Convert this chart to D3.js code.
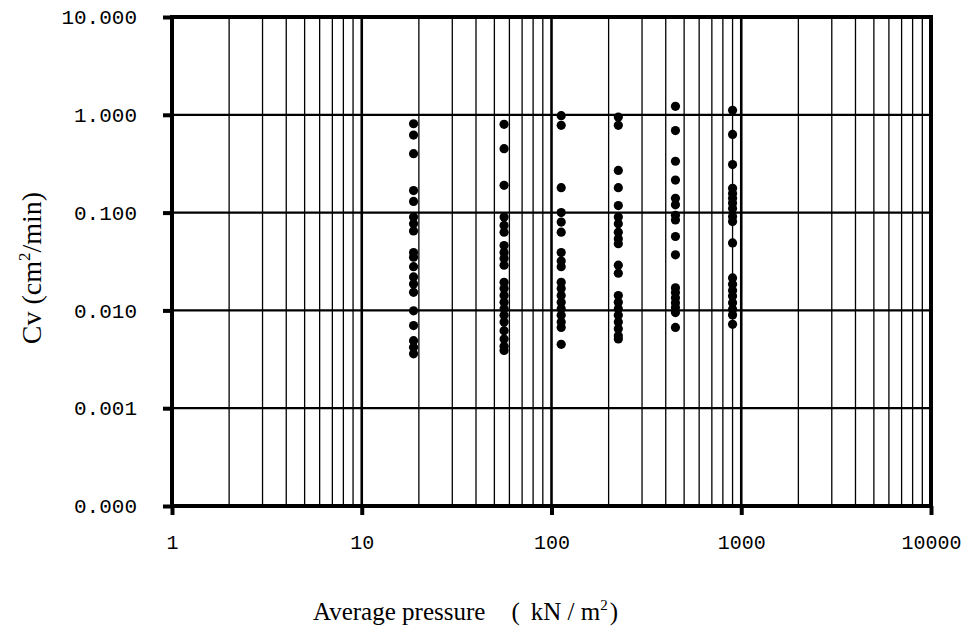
<!DOCTYPE html>
<html>
<head>
<meta charset="utf-8">
<script src="https://cdn.jsdelivr.net/npm/d3@7"></script>
<style>
	html, body { margin: 0; padding: 0; background: #ffffff; }
	svg { display: block; }
</style>
</head>
<body>
<div id="container"></div>
<script>
/* DATA | */
	const pressures = [18.75, 56.25, 112.5, 225, 450, 900] /* kN/m2, one column of dots each */

	const cv19 = [0.81, 0.62, 0.40, 0.168, 0.13, 0.090, 0.077, 0.065, 0.039, 0.035, 0.028, 0.022, 0.0186, 0.0153, 0.0099, 0.0070, 0.0049, 0.0042, 0.0036]
	const cv56 = [0.80, 0.45, 0.19, 0.090, 0.074, 0.063, 0.046, 0.039, 0.034, 0.029, 0.0194, 0.0167, 0.0142, 0.0121, 0.0104, 0.0089, 0.0076, 0.0062, 0.0051, 0.0043, 0.0039]
	const cv112 = [0.98, 0.78, 0.18, 0.10, 0.080, 0.063, 0.039, 0.032, 0.028, 0.0194, 0.0167, 0.0142, 0.0121, 0.0104, 0.0089, 0.0076, 0.0067, 0.0045]
	const cv225 = [0.95, 0.78, 0.27, 0.18, 0.118, 0.090, 0.077, 0.063, 0.054, 0.048, 0.029, 0.024, 0.0142, 0.0121, 0.0104, 0.0089, 0.0076, 0.0065, 0.0055, 0.0051]
	const cv450 = [1.22, 0.69, 0.335, 0.215, 0.14, 0.12, 0.094, 0.084, 0.057, 0.037, 0.0170, 0.0152, 0.0135, 0.0120, 0.0107, 0.0095, 0.0067]
	const cv900 = [1.11, 0.63, 0.31, 0.177, 0.157, 0.14, 0.125, 0.11, 0.091, 0.081, 0.049, 0.0215, 0.0185, 0.0160, 0.0140, 0.0120, 0.0103, 0.0090, 0.0072]

	const xTicks = [1, 10, 100, 1000, 10000]
	const yTicks = [0.0001, 0.001, 0.01, 0.1, 1, 10] /* bottom one prints as 0.000 */

/* CONSTANTS */
	const width = 969,
	height = 638,
	margin = { top: 17, bottom: 132, left: 172, right: 38 }

	const monoFont = "'Liberation Mono', 'DejaVu Sans Mono', monospace"
	const serifFont = "'Liberation Serif', 'DejaVu Serif', serif"

/* flatten the columns into points */
	const columns = [cv19, cv56, cv112, cv225, cv450, cv900]
	const points = []
	columns.forEach((col, i) => {
		col.forEach(v => points.push({ p: pressures[i], cv: v }))
	})

/* SCALES */
	const xScale = d3.scaleLog()
		.domain([1, 10000])
		.range([margin.left, width - margin.right])

	const yScale = d3.scaleLog()
		.domain([0.0001, 10])
		.range([height - margin.bottom, margin.top])

/* SVG */
	const svg = d3.select("#container")
		.append("svg")
		.attr("width", width)
		.attr("height", height)

/* GRID | minor verticals 2..9 in every decade, decade lines heavier */
	const minorX = []
	for (let e = 0; e < 4; e++) {
		for (let k = 2; k <= 9; k++) minorX.push(k * Math.pow(10, e))
	}

	svg.append("g")
		.selectAll("line")
		.data(minorX)
		.join("line")
		.attr("x1", d => xScale(d))
		.attr("x2", d => xScale(d))
		.attr("y1", margin.top)
		.attr("y2", height - margin.bottom)
		.attr("stroke", "#000")
		.attr("stroke-width", 1.3)

	svg.append("g")
		.selectAll("line")
		.data(xTicks.slice(1, -1))
		.join("line")
		.attr("x1", d => xScale(d))
		.attr("x2", d => xScale(d))
		.attr("y1", margin.top)
		.attr("y2", height - margin.bottom)
		.attr("stroke", "#000")
		.attr("stroke-width", 2.6)

	svg.append("g")
		.selectAll("line")
		.data(yTicks.slice(1, -1))
		.join("line")
		.attr("x1", margin.left)
		.attr("x2", width - margin.right)
		.attr("y1", d => yScale(d))
		.attr("y2", d => yScale(d))
		.attr("stroke", "#000")
		.attr("stroke-width", 2.2)

/* AXES */
	const xAxis = d3.axisBottom(xScale)
		.tickValues(xTicks)
		.tickFormat(d3.format("d"))
		.tickSize(9)
		.tickPadding(20)

	const xAxisGroup = svg.append("g")
		.attr("transform", `translate(0, ${height - margin.bottom})`)
		.call(xAxis)
	xAxisGroup.select(".domain").remove()
	xAxisGroup.selectAll(".tick line").attr("stroke", "#000").attr("stroke-width", 4)
	xAxisGroup.selectAll(".tick text")
		.style("font-family", monoFont)
		.style("font-size", "20px")
		.attr("fill", "#000")

	const yAxis = d3.axisLeft(yScale)
		.tickValues(yTicks)
		.tickFormat(d3.format(".3f"))
		.tickSize(9)
		.tickPadding(26)

	const yAxisGroup = svg.append("g")
		.attr("transform", `translate(${margin.left}, 0)`)
		.call(yAxis)
	yAxisGroup.select(".domain").remove()
	yAxisGroup.selectAll(".tick line").attr("stroke", "#000").attr("stroke-width", 4)
	yAxisGroup.selectAll(".tick text")
		.style("font-family", monoFont)
		.style("font-size", "21px")
		.attr("fill", "#000")

/* FRAME */
	svg.append("rect")
		.attr("x", margin.left)
		.attr("y", margin.top)
		.attr("width", width - margin.left - margin.right)
		.attr("height", height - margin.top - margin.bottom)
		.attr("fill", "none")
		.attr("stroke", "#000")
		.attr("stroke-width", 4)

/* DOTS */
	svg.append("g")
		.selectAll("circle")
		.data(points)
		.join("circle")
		.attr("cx", d => xScale(d.p))
		.attr("cy", d => yScale(d.cv))
		.attr("r", 4.6)
		.attr("fill", "#000")

/* AXIS TITLES */
	const xTitle = svg.append("text")
		.attr("x", 313)
		.attr("y", 620)
		.style("font-family", serifFont)
		.style("font-size", "25px")
		.attr("fill", "#000")
	xTitle.append("tspan").text("Average pressure")
	xTitle.append("tspan").attr("dx", 26).text("(")
	xTitle.append("tspan").attr("dx", 11).text("kN / m")
	xTitle.append("tspan").attr("dy", -10).style("font-size", "15px").text("2")
	xTitle.append("tspan").attr("dy", 10).attr("dx", 2).text(")")

	const yTitle = svg.append("text")
		.attr("transform", `translate(41, 268) rotate(-90)`)
		.attr("text-anchor", "middle")
		.style("font-family", serifFont)
		.style("font-size", "28px")
		.attr("fill", "#000")
	yTitle.append("tspan").text("Cv (cm")
	yTitle.append("tspan").attr("dy", -11).style("font-size", "17px").text("2")
	yTitle.append("tspan").attr("dy", 11).text("/min)")
</script>
</body>
</html>
